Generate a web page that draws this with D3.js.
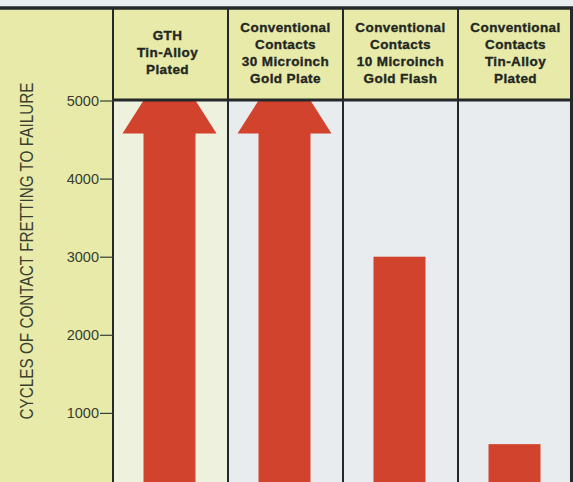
<!DOCTYPE html>
<html>
<head>
<meta charset="utf-8">
<script src="https://cdn.jsdelivr.net/npm/d3@7"></script>
<style>
  html, body { margin: 0; padding: 0; background: #e9edef; }
  svg { display: block; }
</style>
</head>
<body>
<svg id="chart" width="573" height="482"></svg>
<script>
// Contact types compared (one column each) and their header lines
const categories = [
  "GTH Tin-Alloy Plated",
  "Conventional 30 Microinch Gold Plate",
  "Conventional 10 Microinch Gold Flash",
  "Conventional Tin-Alloy Plated"
];
const headerLines = [
  ["GTH", "Tin-Alloy", "Plated"],
  ["Conventional", "Contacts", "30 Microinch", "Gold Plate"],
  ["Conventional", "Contacts", "10 Microinch", "Gold Flash"],
  ["Conventional", "Contacts", "Tin-Alloy", "Plated"]
];
// Cycles of fretting until the contact failed
const cyclesToFailure = [5000, 5000, 3000, 600];
// Runs that never failed within the test range are shown as arrows
const exceedsScale = [true, true, false, false];
const tickValues = [1000, 2000, 3000, 4000, 5000];
const axisTitle = "CYCLES OF CONTACT FRETTING TO FAILURE";
const featured = "GTH Tin-Alloy Plated";

const W = 573, H = 482;
const plotLeft = 113, plotRight = 573, headerTop = 8, headerBottom = 100;

const svg = d3.select("#chart");

const x = d3.scaleBand().domain(categories).range([plotLeft, plotRight]).padding(0);
const y = d3.scaleLinear().domain([0, 5000]).range([491, 100.5]);

const ink = "#23261f";
const yellow = "#e7eaa9";
const red = "#d1432d";

// top strip and yellow frame (header band + axis margin)
svg.append("rect").attr("x", 0).attr("y", 0).attr("width", W).attr("height", H).attr("fill", "#e9edef");
svg.append("rect").attr("x", 0).attr("y", headerTop).attr("width", W).attr("height", H - headerTop).attr("fill", yellow);

// column backgrounds below the header
svg.append("g").selectAll("rect")
  .data(categories)
  .join("rect")
  .attr("x", d => x(d))
  .attr("y", headerBottom)
  .attr("width", x.bandwidth())
  .attr("height", H - headerBottom)
  .attr("fill", d => d === featured ? "#eef1dd" : "#e8ecef");

// bars and open-ended arrows
const shaftHalf = 26, headHalf = 47, headH = 33;
const bars = svg.append("g");
categories.forEach((c, i) => {
  const cx = x(c) + x.bandwidth() / 2 - 1;
  const top = y(cyclesToFailure[i]);
  const base = y(0);
  if (exceedsScale[i]) {
    const hb = top + headH;
    const pts = [
      [cx - shaftHalf, top], [cx + shaftHalf, top],
      [cx + headHalf, hb], [cx + shaftHalf, hb],
      [cx + shaftHalf, base], [cx - shaftHalf, base],
      [cx - shaftHalf, hb], [cx - headHalf, hb]
    ];
    bars.append("path").attr("d", d3.line()(pts) + "Z").attr("fill", red);
  } else {
    bars.append("rect")
      .attr("x", cx - shaftHalf)
      .attr("y", top)
      .attr("width", shaftHalf * 2)
      .attr("height", base - top)
      .attr("fill", red);
  }
});

// header labels
const lineGap = 17, midBaseline = 57;
const hdr = svg.append("g")
  .attr("font-family", "'Liberation Sans', Arial, sans-serif")
  .attr("font-weight", "bold")
  .attr("font-size", 13.5)
  .attr("letter-spacing", "0.4px")
  .attr("fill", ink)
  .attr("stroke", ink)
  .attr("stroke-width", 0.35)
  .attr("text-anchor", "middle");
categories.forEach((c, i) => {
  const lines = headerLines[i];
  const first = midBaseline - (lines.length - 1) * lineGap / 2;
  const t = hdr.append("text");
  lines.forEach((ln, k) => {
    t.append("tspan")
      .attr("x", x(c) + x.bandwidth() / 2 - (c === featured ? 3 : 0))
      .attr("y", first + k * lineGap)
      .text(ln);
  });
});

// grid frame lines
const frame = svg.append("g").attr("stroke", "#25282a");
frame.append("line").attr("x1", 0).attr("x2", W).attr("y1", 8).attr("y2", 8).attr("stroke-width", 3.5);
frame.append("line").attr("x1", plotLeft).attr("x2", W).attr("y1", headerBottom).attr("y2", headerBottom).attr("stroke-width", 3);
frame.selectAll(".col")
  .data(categories)
  .join("line")
  .attr("x1", d => x(d)).attr("x2", d => x(d))
  .attr("y1", headerTop).attr("y2", H)
  .attr("stroke-width", 2);
frame.append("line").attr("x1", 571.5).attr("x2", 571.5).attr("y1", headerTop).attr("y2", H).attr("stroke-width", 3);

// value axis
const axis = svg.append("g")
  .attr("transform", `translate(${plotLeft},0)`)
  .call(d3.axisLeft(y).tickValues(tickValues).tickSize(13).tickPadding(1).tickFormat(d3.format("d")));
axis.select(".domain").remove();
axis.selectAll(".tick line").attr("stroke", "#3a3d30").attr("stroke-width", 1.2);
axis.selectAll(".tick text")
  .attr("font-family", "'Liberation Sans', Arial, sans-serif")
  .attr("font-size", 14.5)
  .attr("fill", "#3a3d30");

// axis title
svg.append("text")
  .attr("transform", "translate(33,251) rotate(-90)")
  .attr("text-anchor", "middle")
  .attr("font-family", "'Liberation Sans Narrow', 'Liberation Sans', sans-serif")
  .attr("font-size", 18.5)
  .attr("fill", "#3a3f30")
  .attr("textLength", 337)
  .attr("lengthAdjust", "spacingAndGlyphs")
  .text(axisTitle);
</script>
</body>
</html>
